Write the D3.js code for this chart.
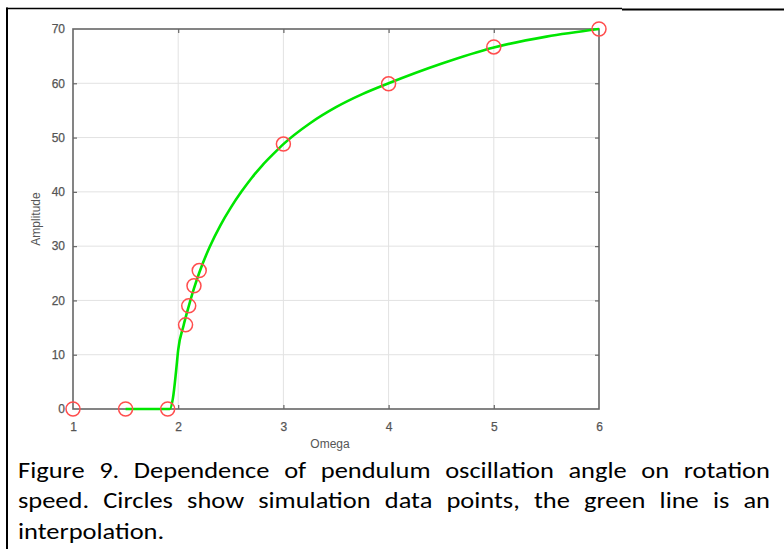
<!DOCTYPE html>
<html><head><meta charset="utf-8">
<script src="https://cdn.jsdelivr.net/npm/d3@7"></script>
<style>html,body{margin:0;padding:0;background:#fff;}svg{display:block;}</style>
</head><body>
<svg id="c" width="784" height="549"></svg>
<script>
// Data
const omega = [1, 1.5, 1.9, 2.07, 2.1, 2.15, 2.2, 3, 4, 5, 6];
const amplitude = [0, 0, 0, 15.5, 19, 22.7, 25.5, 48.8, 59.9, 66.7, 70];
const curveOmega = [1.5, 1.92, 1.95, 1.98, 2.0, 2.05, 2.1, 2.15, 2.2, 2.3, 2.4, 2.5, 2.6, 2.7, 2.8, 2.9, 3.0, 3.25, 3.5, 3.75, 4.0, 4.5, 5.0, 5.5, 6.0];
const curveAmp   = [0, 0, 2, 7, 10.9, 15.3, 18.9, 22.2, 25.1, 29.9, 33.8, 37.1, 40.0, 42.6, 44.9, 46.9, 48.8, 52.6, 55.6, 58.0, 60.0, 63.6, 66.6, 68.6, 70];
const xTicks = [1, 2, 3, 4, 5, 6];
const yTicks = [0, 10, 20, 30, 40, 50, 60, 70];
const xLabel = "Omega";
const yLabel = "Amplitude";
const captionLines = [
  "Figure 9. Dependence of pendulum oscillation angle on rotation",
  "speed. Circles show simulation data points, the green line is an",
  "interpolation."
];

const svg = d3.select("#c");
const L = 73, R = 599, T = 29, B = 409;
const x = d3.scaleLinear().domain([1, 6]).range([L, R]);
const y = d3.scaleLinear().domain([0, 70]).range([B, T]);

// page borders
svg.append("line").attr("x1", 7).attr("x2", 7).attr("y1", 7.5).attr("y2", 549).attr("stroke", "#000").attr("stroke-width", 2);
svg.append("line").attr("x1", 6).attr("x2", 622).attr("y1", 8.5).attr("y2", 8.5).attr("stroke", "#000").attr("stroke-width", 1.5);
svg.append("line").attr("x1", 622).attr("x2", 784).attr("y1", 9.5).attr("y2", 9.5).attr("stroke", "#000").attr("stroke-width", 2);

// grid
const g = svg.append("g");
g.selectAll(".gx").data(xTicks.slice(1, -1)).enter().append("line")
  .attr("x1", d => x(d)).attr("x2", d => x(d)).attr("y1", T).attr("y2", B)
  .attr("stroke", "#e2e2e2").attr("stroke-width", 1);
g.selectAll(".gy").data(yTicks.slice(1, -1)).enter().append("line")
  .attr("x1", L).attr("x2", R).attr("y1", d => y(d)).attr("y2", d => y(d))
  .attr("stroke", "#e2e2e2").attr("stroke-width", 1);

// axes (inside ticks)
const axColor = "#666";
const tickFont = "'Liberation Sans', Arial, sans-serif";
function styleAxis(sel) {
  sel.select(".domain").remove();
  sel.selectAll(".tick line").attr("stroke", axColor).attr("stroke-width", 1.2);
  sel.selectAll(".tick text").attr("fill", "#555").attr("stroke", "#555").attr("stroke-width", 0.25)
    .style("font-family", tickFont).style("font-size", "12px");
}
const xb = svg.append("g").attr("transform", `translate(0,${B})`)
  .call(d3.axisBottom(x).tickValues(xTicks).tickSize(-4).tickPadding(13).tickFormat(d3.format("d")));
styleAxis(xb);
xb.selectAll(".tick line").filter(d => d === 1 || d === 6).remove();
const yl = svg.append("g").attr("transform", `translate(${L},0)`)
  .call(d3.axisLeft(y).tickValues(yTicks).tickSize(-4).tickPadding(8).tickFormat(d3.format("d")));
styleAxis(yl);
yl.selectAll(".tick line").filter(d => d === 0 || d === 70).remove();
const xt = svg.append("g").attr("transform", `translate(0,${T})`)
  .call(d3.axisTop(x).tickValues(xTicks.slice(1, -1)).tickSize(-4).tickFormat(""));
styleAxis(xt);
const yr = svg.append("g").attr("transform", `translate(${R},0)`)
  .call(d3.axisRight(y).tickValues(yTicks.slice(1, -1)).tickSize(-4).tickFormat(""));
styleAxis(yr);

// frame
svg.append("rect").attr("x", L).attr("y", T).attr("width", R - L).attr("height", B - T)
  .attr("fill", "none").attr("stroke", axColor).attr("stroke-width", 1.6);

// axis titles
svg.append("text").attr("x", 330).attr("y", 448).attr("text-anchor", "middle")
  .attr("fill", "#555").style("font-family", tickFont).style("font-size", "12px").text(xLabel);
svg.append("text").attr("transform", `translate(40,${y(35)}) rotate(-90)`).attr("text-anchor", "middle")
  .attr("fill", "#555").style("font-family", tickFont).style("font-size", "12px").text(yLabel);

// interpolation line
const pts = curveOmega.map((o, i) => [o, curveAmp[i]]);
svg.append("path").datum(pts)
  .attr("d", d3.line().x(d => x(d[0])).y(d => y(d[1])).curve(d3.curveMonotoneX))
  .attr("fill", "none").attr("stroke", "#00e600").attr("stroke-width", 2.6);

// data circles
svg.selectAll(".pt").data(omega.map((o, i) => [o, amplitude[i]])).enter().append("circle")
  .attr("cx", d => x(d[0])).attr("cy", d => y(d[1])).attr("r", 7)
  .attr("fill", "none").attr("stroke", "#ff4d4d").attr("stroke-width", 1.5);

// caption, justified
const capX0 = 18, capX1 = 770, capY = [478, 508, 539];
const capFont = "Carlito, Calibri, Lato, sans-serif";
const sx = 1.15;
captionLines.forEach((line, li) => {
  const words = line.split(" ");
  const gg = svg.append("g");
  const nodes = words.map(w => gg.append("text").attr("fill", "#000")
    .style("font-family", capFont).style("font-size", "23px").text(w));
  const widths = nodes.map(n => n.node().getComputedTextLength() * sx);
  const total = d3.sum(widths);
  const justify = li < captionLines.length - 1;
  const gap = justify ? (capX1 - capX0 - total) / (words.length - 1) : 6;
  let cx = capX0;
  nodes.forEach((n, i) => { n.attr("transform", `translate(${cx},${capY[li]}) scale(${sx},1)`); cx += widths[i] + gap; });
});
</script>
</body></html>
